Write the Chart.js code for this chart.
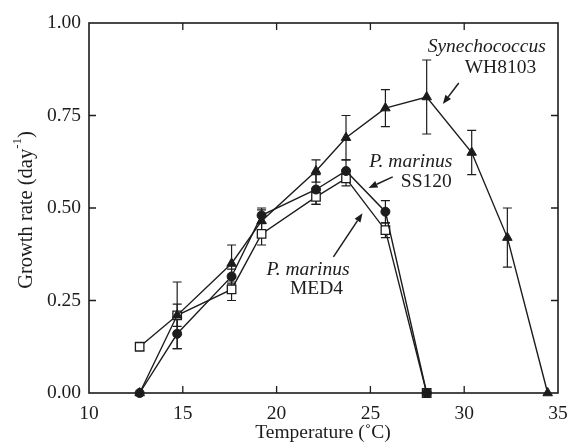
<!DOCTYPE html>
<html>
<head>
<meta charset="utf-8">
<script src="https://cdn.jsdelivr.net/npm/chart.js@4/dist/chart.umd.min.js"></script>
<style>
  html, body { margin: 0; padding: 0; background: #fff; }
  #wrap { width: 569px; height: 445px; position: relative; }
</style>
</head>
<body>
<div id="wrap"><canvas id="c" width="569" height="445"></canvas></div>
<script>
// ---- Data ----
const synTemps   = [12.7, 14.7, 17.6, 19.2, 22.1, 23.7, 25.8, 28.0, 30.4, 32.3, 34.45];
const synRates   = [0.00, 0.21, 0.35, 0.465, 0.60, 0.69, 0.77, 0.80, 0.65, 0.42, 0.00];
const synErrors  = [0, 0.09, 0.05, 0.03, 0.03, 0.06, 0.05, 0.10, 0.06, 0.08, 0];

const ss120Temps  = [12.7, 14.7, 17.6, 19.2, 22.1, 23.7, 25.8, 28.0];
const ss120Rates  = [0.00, 0.16, 0.315, 0.48, 0.55, 0.60, 0.49, 0.00];
const ss120Errors = [0, 0.04, 0.02, 0.02, 0.04, 0.03, 0.03, 0];

const med4Temps  = [12.7, 14.7, 17.6, 19.2, 22.1, 23.7, 25.8, 28.0];
const med4Rates  = [0.125, 0.21, 0.28, 0.43, 0.53, 0.58, 0.44, 0.00];
const med4Errors = [0.01, 0.03, 0.03, 0.03, 0.02, 0.02, 0.02, 0];

const xTicks = [10, 15, 20, 25, 30, 35];
const yTicks = [0, 0.25, 0.5, 0.75, 1.0];

const xTitle = 'Temperature (\u02DAC)';
const yTitleMain = 'Growth rate (day';
const yTitleSup = '-1';

// annotation labels (data coordinates)
const labels = [
  { text: 'Synechococcus', italic: true,  x: 31.2,  y: 0.935 },
  { text: 'WH8103',        italic: false, x: 31.93, y: 0.878 },
  { text: 'P. marinus',    italic: true,  x: 27.15, y: 0.624 },
  { text: 'SS120',         italic: false, x: 27.98, y: 0.570 },
  { text: 'P. marinus',    italic: true,  x: 21.67, y: 0.332 },
  { text: 'MED4',          italic: false, x: 22.13, y: 0.281 }
];
const arrows = [
  { from: [29.71, 0.838], to: [28.86, 0.781] },
  { from: [26.19, 0.584], to: [24.90, 0.554] },
  { from: [23.03, 0.368], to: [24.58, 0.486] }
];

const INK = '#1c1c1c';
const FONT = '"Liberation Serif", "Times New Roman", serif';
const FS = 19.5;

function pts(xs, ys) { return xs.map((x, i) => ({ x: x, y: ys[i] })); }

const errorSets = [synErrors, ss120Errors, med4Errors];

const frameAndExtras = {
  id: 'frameAndExtras',
  beforeDatasetsDraw(chart) {
    const ctx = chart.ctx;
    const xs = chart.scales.x, ys = chart.scales.y;
    ctx.save();
    ctx.strokeStyle = INK;
    ctx.lineWidth = 1.2;
    chart.data.datasets.forEach((ds, di) => {
      const errs = errorSets[di];
      ds.data.forEach((p, i) => {
        const e = errs[i];
        if (!e) return;
        const px = xs.getPixelForValue(p.x);
        const y1 = ys.getPixelForValue(p.y - e);
        const y2 = ys.getPixelForValue(p.y + e);
        ctx.beginPath();
        ctx.moveTo(px, y1); ctx.lineTo(px, y2);
        ctx.moveTo(px - 4.5, y1); ctx.lineTo(px + 4.5, y1);
        ctx.moveTo(px - 4.5, y2); ctx.lineTo(px + 4.5, y2);
        ctx.stroke();
      });
    });
    ctx.restore();
  },
  afterDraw(chart) {
    const ctx = chart.ctx;
    const a = chart.chartArea;
    const xs = chart.scales.x, ys = chart.scales.y;
    ctx.save();
    // frame
    ctx.strokeStyle = INK;
    ctx.lineWidth = 1.6;
    ctx.strokeRect(a.left, a.top, a.right - a.left, a.bottom - a.top);
    // inward ticks on all four sides
    ctx.lineWidth = 1.3;
    const tl = 7;
    xTicks.forEach(v => {
      const px = xs.getPixelForValue(v);
      if (v === xTicks[0] || v === xTicks[xTicks.length - 1]) return;
      ctx.beginPath();
      ctx.moveTo(px, a.bottom); ctx.lineTo(px, a.bottom - tl);
      ctx.moveTo(px, a.top); ctx.lineTo(px, a.top + tl);
      ctx.stroke();
    });
    yTicks.forEach(v => {
      const py = ys.getPixelForValue(v);
      if (v === yTicks[0] || v === yTicks[yTicks.length - 1]) return;
      ctx.beginPath();
      ctx.moveTo(a.left, py); ctx.lineTo(a.left + tl, py);
      ctx.moveTo(a.right, py); ctx.lineTo(a.right - tl, py);
      ctx.stroke();
    });
    // axis titles
    ctx.fillStyle = INK;
    ctx.font = FS + 'px ' + FONT;
    ctx.textAlign = 'center';
    ctx.textBaseline = 'middle';
    ctx.fillText(xTitle, 323, 433);
    // y title rotated with superscript
    ctx.save();
    ctx.translate(27, 210);
    ctx.rotate(-Math.PI / 2);
    const yfs = 20.5;
    ctx.font = yfs + 'px ' + FONT;
    const wMain = ctx.measureText(yTitleMain).width;
    ctx.font = '13px ' + FONT;
    const wSup = ctx.measureText(yTitleSup).width;
    ctx.font = yfs + 'px ' + FONT;
    const wClose = ctx.measureText(')').width;
    const total = wMain + wSup + wClose;
    let sx = -total / 2;
    ctx.textAlign = 'left';
    ctx.fillText(yTitleMain, sx, 0);
    sx += wMain;
    ctx.font = '13px ' + FONT;
    ctx.fillText(yTitleSup, sx, -9);
    sx += wSup;
    ctx.font = yfs + 'px ' + FONT;
    ctx.fillText(')', sx, 0);
    ctx.restore();
    // annotation labels
    labels.forEach(l => {
      ctx.font = (l.italic ? 'italic ' : '') + FS + 'px ' + FONT;
      ctx.textAlign = 'center';
      ctx.textBaseline = 'middle';
      ctx.fillText(l.text, xs.getPixelForValue(l.x), ys.getPixelForValue(l.y));
    });
    // arrows
    ctx.lineWidth = 1.5;
    arrows.forEach(ar => {
      const x1 = xs.getPixelForValue(ar.from[0]), y1 = ys.getPixelForValue(ar.from[1]);
      const x2 = xs.getPixelForValue(ar.to[0]), y2 = ys.getPixelForValue(ar.to[1]);
      const ang = Math.atan2(y2 - y1, x2 - x1);
      const hl = 9, hw = 3.5;
      const bx = x2 - hl * Math.cos(ang), by = y2 - hl * Math.sin(ang);
      ctx.beginPath();
      ctx.moveTo(x1, y1); ctx.lineTo(bx, by);
      ctx.stroke();
      ctx.beginPath();
      ctx.moveTo(x2, y2);
      ctx.lineTo(bx + hw * Math.sin(ang), by - hw * Math.cos(ang));
      ctx.lineTo(bx - hw * Math.sin(ang), by + hw * Math.cos(ang));
      ctx.closePath();
      ctx.fill();
    });
    ctx.restore();
  }
};

new Chart(document.getElementById('c'), {
  type: 'scatter',
  data: {
    datasets: [
      {
        label: 'Synechococcus WH8103',
        data: pts(synTemps, synRates),
        order: 1,
        showLine: true,
        borderColor: INK,
        borderWidth: 1.4,
        pointStyle: 'triangle',
        pointRadius: 5.5,
        pointBackgroundColor: INK,
        pointBorderColor: INK,
        pointBorderWidth: 1,
        clip: false
      },
      {
        label: 'P. marinus SS120',
        data: pts(ss120Temps, ss120Rates),
        order: 2,
        showLine: true,
        borderColor: INK,
        borderWidth: 1.4,
        pointStyle: 'circle',
        pointRadius: 4.5,
        pointBackgroundColor: INK,
        pointBorderColor: INK,
        pointBorderWidth: 1,
        clip: false
      },
      {
        label: 'P. marinus MED4',
        data: pts(med4Temps, med4Rates),
        order: 3,
        showLine: true,
        borderColor: INK,
        borderWidth: 1.4,
        pointStyle: 'rect',
        pointRadius: 6,
        pointBackgroundColor: '#ffffff',
        pointBorderColor: INK,
        pointBorderWidth: 1.3,
        clip: false
      }
    ]
  },
  options: {
    responsive: false,
    animation: false,
    devicePixelRatio: 1,
    layout: { padding: { top: 23, right: 11, left: 0, bottom: 0 } },
    plugins: { legend: { display: false }, tooltip: { enabled: false } },
    scales: {
      x: {
        type: 'linear',
        min: 10, max: 35,
        afterBuildTicks: s => { s.ticks = xTicks.map(v => ({ value: v })); },
        afterFit: s => { s.height = 52; s.paddingLeft = 0; s.paddingRight = 0; },
        grid: { display: false, drawTicks: false },
        border: { display: false },
        ticks: {
          color: INK, padding: 9,
          font: { family: FONT, size: FS },
          maxRotation: 0,
          callback: v => String(v)
        },
        title: { display: false }
      },
      y: {
        type: 'linear',
        min: 0, max: 1,
        afterBuildTicks: s => { s.ticks = yTicks.map(v => ({ value: v })); },
        afterFit: s => { s.width = 89; s.paddingTop = 0; s.paddingBottom = 0; },
        grid: { display: false, drawTicks: false },
        border: { display: false },
        ticks: {
          color: INK, padding: 8,
          font: { family: FONT, size: FS },
          callback: v => Number(v).toFixed(2)
        },
        title: { display: false }
      }
    }
  },
  plugins: [frameAndExtras]
});
</script>
</body>
</html>
